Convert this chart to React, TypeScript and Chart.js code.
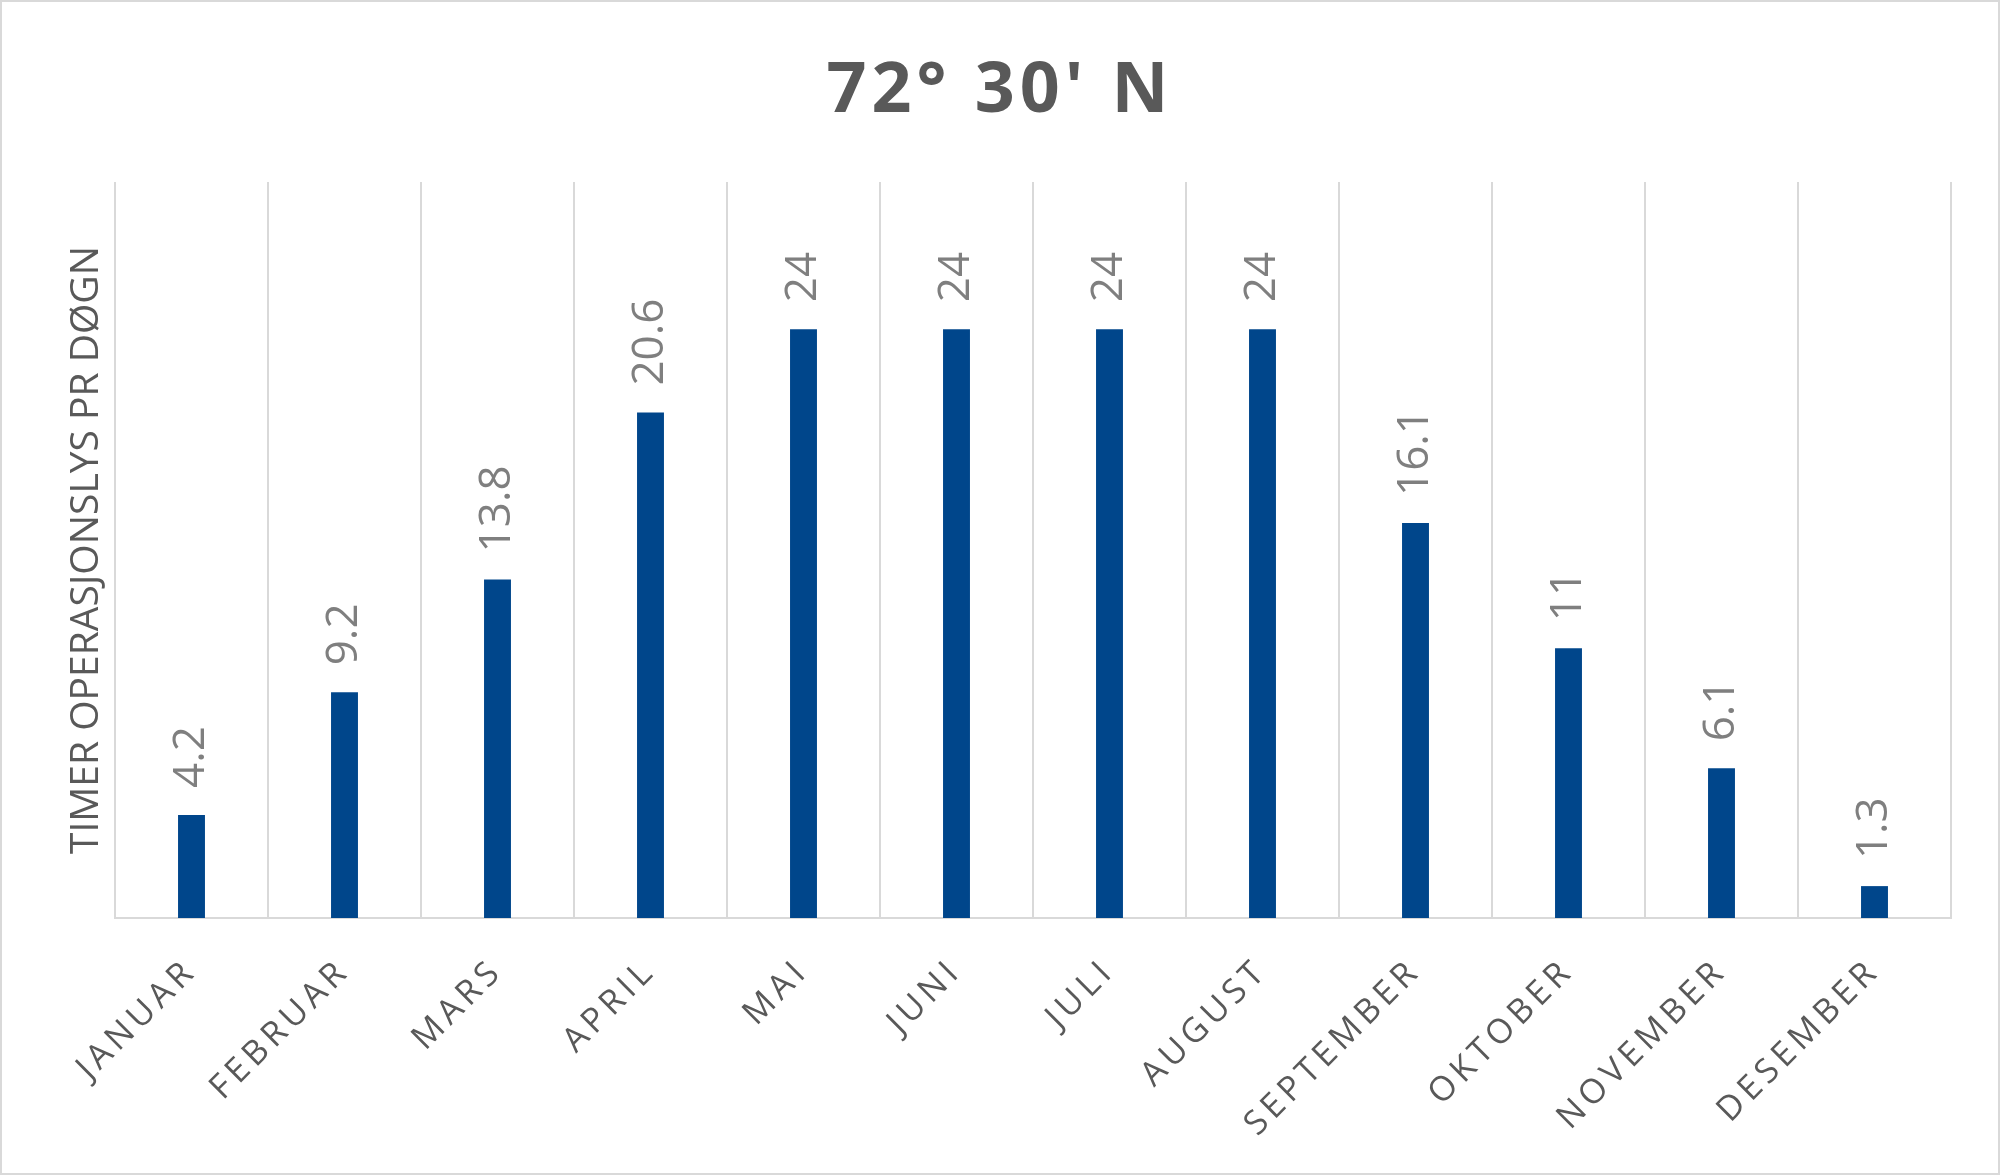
import { useEffect, useRef } from "react";
import Chart from "chart.js/auto";

const chartTitle = "72° 30' N";
const yAxisTitle = "TIMER OPERASJONSLYS PR DØGN";
const months = [
  "JANUAR",
  "FEBRUAR",
  "MARS",
  "APRIL",
  "MAI",
  "JUNI",
  "JULI",
  "AUGUST",
  "SEPTEMBER",
  "OKTOBER",
  "NOVEMBER",
  "DESEMBER",
];
const hours = [4.2, 9.2, 13.8, 20.6, 24, 24, 24, 24, 16.1, 11, 6.1, 1.3];
const yMax = 30;

// letter spacing for title + month labels, data labels drawn after the bars
const labelPlugin = {
  id: "labels",
  beforeDraw(chart: any) {
    chart.ctx.letterSpacing = "5px";
  },
  afterDatasetsDraw(chart: any) {
    const ctx = chart.ctx;
    ctx.letterSpacing = "0px";
    const meta = chart.getDatasetMeta(0);
    ctx.save();
    ctx.font = "44px 'Open Sans'";
    ctx.fillStyle = "#7f7f7f";
    ctx.textAlign = "left";
    ctx.textBaseline = "middle";
    meta.data.forEach((bar: any, i: number) => {
      ctx.save();
      ctx.translate(bar.x, bar.y - 27);
      ctx.rotate(-Math.PI / 2);
      ctx.fillText(String(hours[i]), 0, 0);
      ctx.restore();
    });
    ctx.restore();
  },
  afterDraw(chart: any) {
    chart.ctx.letterSpacing = "0px";
  },
};

export default function App() {
  const chartRef = useRef<HTMLCanvasElement | null>(null);

  useEffect(() => {
    document.body.style.margin = "0";
    if (!chartRef.current) return;
    const ctx = chartRef.current.getContext("2d");
    if (!ctx) return;

    const chart = new Chart(ctx, {
      type: "bar",
      data: {
        labels: months,
        datasets: [
          {
            data: hours,
            backgroundColor: "#00468B",
            barPercentage: 0.176,
            categoryPercentage: 1,
          },
        ],
      },
      options: {
        animation: false,
        responsive: true,
        maintainAspectRatio: false,
        layout: { padding: 0 },
        plugins: {
          legend: { display: false },
          tooltip: { enabled: false },
          title: {
            display: true,
            text: chartTitle,
            color: "#595959",
            font: { family: "'Open Sans'", size: 70, weight: "bold", lineHeight: 1.2 },
            padding: { top: 48, bottom: 48 },
          },
        },
        scales: {
          x: {
            grid: { color: "#d9d9d9", lineWidth: 2, drawTicks: false, offset: true },
            border: { color: "#d9d9d9", width: 2 },
            ticks: {
              color: "#595959",
              font: { family: "'Open Sans'", size: 34 },
              minRotation: 45,
              maxRotation: 45,
              padding: 33,
              autoSkip: false,
            },
            afterFit(scale: any) {
              scale.height = 255;
            },
          },
          y: {
            min: 0,
            max: yMax,
            grid: { display: false, z: 1 },
            border: { display: false },
            ticks: { display: false },
            title: {
              display: true,
              text: yAxisTitle,
              color: "#595959",
              font: { family: "'Open Sans'", size: 39, lineHeight: 1.2 },
              padding: { top: 61, bottom: 0 },
            },
            afterFit(scale: any) {
              scale.width = 113;
            },
          },
          // empty right-hand margin so the title centres on the whole canvas
          yRight: {
            position: "right",
            grid: { display: false },
            border: { display: false },
            ticks: { display: false },
            afterFit(scale: any) {
              scale.width = 47;
            },
          },
        },
      },
      plugins: [labelPlugin],
    });

    return () => chart.destroy();
  }, []);

  return (
    <div
      style={{
        width: 2000,
        height: 1175,
        boxSizing: "border-box",
        border: "2px solid #d9d9d9",
        background: "#fff",
        position: "relative",
      }}
    >
      <canvas ref={chartRef}></canvas>
    </div>
  );
}
